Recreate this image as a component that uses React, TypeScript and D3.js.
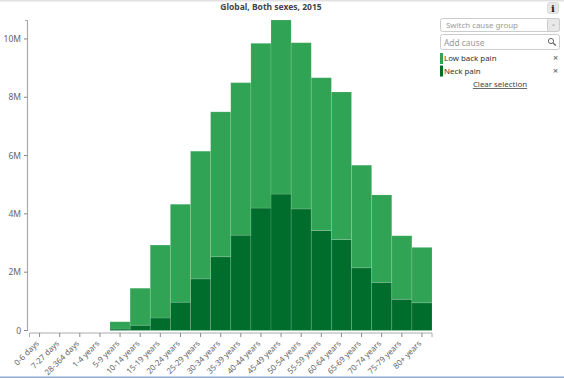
import React from "react";
import * as d3 from "d3";

const ageGroups = ["0-6 days","7-27 days","28-364 days","1-4 years","5-9 years","10-14 years","15-19 years","20-24 years","25-29 years","30-34 years","35-39 years","40-44 years","45-49 years","50-54 years","55-59 years","60-64 years","65-69 years","70-74 years","75-79 years","80+ years"];
const neckPain = [0,0,0,0,0.05,0.18,0.43,0.97,1.77,2.53,3.27,4.2,4.68,4.17,3.43,3.12,2.15,1.65,1.07,0.95];
const lowBackPain = [0,0,0,0,0.25,1.27,2.5,3.36,4.38,4.97,5.23,5.65,5.97,5.7,5.24,5.06,3.52,3.0,2.18,1.9];
const yTicks = [0,2,4,6,8,10];
const causes = ["Low back pain","Neck pain"];
const colors = ["#31a354","#006d2c"];

const font = "'Noto Sans', Tahoma, sans-serif";
const W = 564, H = 378;
const x = d3.scaleBand<string>().domain(ageGroups).range([29.5, 432]);
const y = d3.scaleLinear().domain([0, 10.65]).range([330.5, 20]);
const rows = ageGroups.map((a, i) => ({ a, neck: neckPain[i], low: lowBackPain[i] }));
const stacked = d3.stack<any>().keys(["neck", "low"])(rows);
const fillFor = ["#006d2c", "#31a354"];

export default function App() {
  return (
    <svg width={W} height={H} style={{ position: "fixed", left: 0, top: 0, background: "#fff" }} fontFamily={font}>
      <rect x={0} y={0} width={W} height={1.5} fill="#e2e2e2" />
      <rect x={0} y={376.5} width={W} height={1.5} fill="#8fa9cf" />
      <text x={271} y={10} textAnchor="middle" fontSize={8.5} fontWeight="bold" fill="#444">Global, Both sexes, 2015</text>

      {stacked.map((s, k) => (
        <g key={s.key}>
          {s.map((d, i) => d[1] - d[0] > 0 && (
            <rect key={i} x={x(ageGroups[i])!} y={y(d[1])} width={x.bandwidth()} height={y(d[0]) - y(d[1])}
              fill={fillFor[k]} stroke="#fff" strokeOpacity={0.12} strokeWidth={1} />
          ))}
        </g>
      ))}

      <path d={`M25,20.5H27.5V330.5H25`} fill="none" stroke="#aaa" strokeWidth={1.2} />
      {yTicks.map(t => (
        <g key={t} transform={`translate(0,${y(t)})`}>
          <line x1={24} x2={27.5} stroke="#888" />
          <text x={21} y={3} textAnchor="end" fontSize={8.5} fill="#666">{t === 0 ? "0" : `${t}M`}</text>
        </g>
      ))}

      <path d={`M29.5,337V333H432V337`} fill="none" stroke="#aaa" strokeWidth={1} />
      {ageGroups.map(a => {
        const c = x(a)! + x.bandwidth() / 2;
        return (
          <g key={a} transform={`translate(${c},0)`}>
            <line y1={333} y2={337} stroke="#888" />
            <text transform="translate(-2,342) rotate(-45)" textAnchor="end" dy="0.35em" fontSize={8} fill="#666">{a}</text>
          </g>
        );
      })}

      <rect x={547.5} y={2.5} width={11} height={11} rx={2} fill="#e6e6e6" stroke="#ddd" />
      <text x={553} y={12} textAnchor="middle" fontSize={10} fontWeight="bold" fontFamily="'DejaVu Serif', serif" fill="#222">i</text>

      <rect x={440.5} y={18.5} width={119} height={13} rx={2} fill="#fff" stroke="#ccc" />
      <rect x={547.5} y={18.5} width={12} height={13} rx={2} fill="#e8e8e8" stroke="#ccc" />
      <path d="M551.5,24.5h4l-2,2z" fill="#bbb" />
      <text x={446} y={28} fontSize={7.9} fill="#999">Switch cause group</text>

      <rect x={440.5} y={34.5} width={119} height={15} rx={2} fill="#fff" stroke="#ccc" />
      <text x={444} y={45.5} fontSize={8.4} fill="#999">Add cause</text>
      <circle cx={551} cy={41} r={2.6} fill="none" stroke="#666" strokeWidth={1} />
      <line x1={553} y1={43} x2={556} y2={45.5} stroke="#666" strokeWidth={1.3} />

      {causes.map((c, i) => (
        <g key={c} transform={`translate(0,${i * 12.5})`}>
          <rect x={440} y={53} width={3} height={11} fill={colors[i]} />
          <text x={444} y={61} fontSize={7.9} fill="#333">{c}</text>
          <text x={555.5} y={61} textAnchor="middle" fontSize={9} fontWeight="bold" fill="#777">×</text>
        </g>
      ))}
      <text x={500} y={87} textAnchor="middle" fontSize={7.9} fill="#444" textDecoration="underline">Clear selection</text>
    </svg>
  );
}
